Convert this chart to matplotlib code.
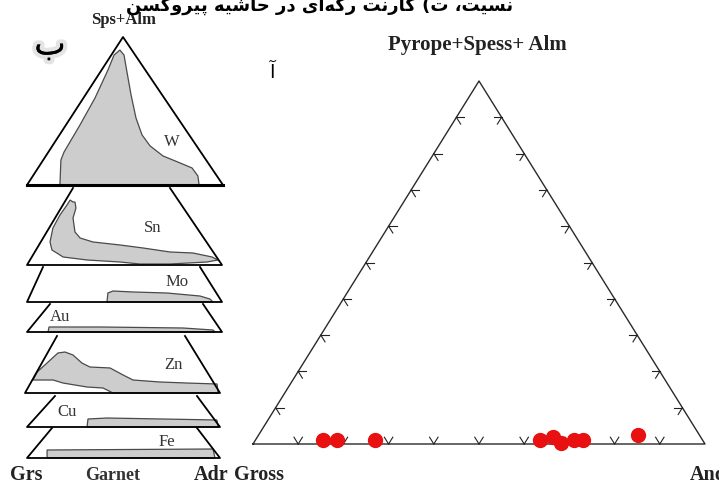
import numpy as np
import matplotlib.pyplot as plt
from matplotlib.patches import Polygon
import matplotlib.patheffects as pe

# red points on the Gross - And join (percent of each end member)
andradite = [15, 18, 26.5, 63, 65.5, 68, 70.5, 72.5, 84]
pyr_sps_alm = [1, 1, 1, 1.2, 1.8, 0.3, 1.0, 1.2, 2.5]

# left panel: garnet fields for each metal, (u along base, v up the slice)
slice_names = ['W', 'Sn', 'Mo', 'Au', 'Zn', 'Cu', 'Fe']
w_u = [0.168, 0.173, 0.189, 0.27, 0.347, 0.413, 0.444, 0.474, 0.495, 0.51,
       0.531, 0.556, 0.587, 0.628, 0.694, 0.77, 0.842, 0.872, 0.878]
w_v = [0.0, 0.169, 0.223, 0.405, 0.588, 0.777, 0.878, 0.912, 0.878, 0.764,
       0.608, 0.453, 0.338, 0.264, 0.196, 0.155, 0.115, 0.061, 0.0]
sn_u = [0.236, 0.221, 0.205, 0.169, 0.133, 0.118, 0.128, 0.185, 0.308, 0.477,
        0.579, 0.733, 0.923, 0.979, 0.949, 0.851, 0.733, 0.595, 0.477, 0.338,
        0.272, 0.246, 0.236, 0.251, 0.246]
sn_v = [0.818, 0.844, 0.779, 0.649, 0.481, 0.299, 0.195, 0.104, 0.065, 0.039,
        0.013, 0.013, 0.039, 0.065, 0.104, 0.156, 0.169, 0.221, 0.26, 0.299,
        0.351, 0.429, 0.61, 0.74, 0.818]
mo_u = [0.41, 0.415, 0.441, 0.544, 0.718, 0.887, 0.938, 0.954]
mo_v = [0.0, 0.257, 0.314, 0.286, 0.257, 0.171, 0.086, 0.0]
au_u = [0.108, 0.113, 0.374, 0.8, 0.954, 0.964]
au_v = [0.0, 0.179, 0.179, 0.143, 0.071, 0.0]
zn_u = [0.062, 0.113, 0.169, 0.205, 0.246, 0.292, 0.333, 0.436, 0.503, 0.554,
        0.692, 0.831, 0.985, 0.99, 0.451, 0.4, 0.318, 0.195, 0.144, 0.041]
zn_v = [0.368, 0.526, 0.702, 0.719, 0.667, 0.526, 0.456, 0.439, 0.316, 0.228,
        0.193, 0.175, 0.158, 0.0, 0.0, 0.088, 0.105, 0.175, 0.228, 0.228]
cu_u = [0.311, 0.316, 0.415, 0.984, 0.99]
cu_v = [0.0, 0.258, 0.29, 0.226, 0.0]
fe_u = [0.104, 0.104, 0.964, 0.974]
fe_v = [0.0, 0.267, 0.3, 0.0]
fields = [(w_u, w_v), (sn_u, sn_v), (mo_u, mo_v), (au_u, au_v),
          (zn_u, zn_v), (cu_u, cu_v), (fe_u, fe_v)]

title_fa = 'نسیت، ت) گارنت رگه‌ای در حاشیه پیروکسن'

# presentation forms: (isolated, final, initial, medial)
FORMS = {
    'ا': ('\uFE8D', '\uFE8E'), 'آ': ('\uFE81', '\uFE82'),
    'ب': ('\uFE8F', '\uFE90', '\uFE91', '\uFE92'),
    'پ': ('\uFB56', '\uFB57', '\uFB58', '\uFB59'),
    'ت': ('\uFE95', '\uFE96', '\uFE97', '\uFE98'),
    'ح': ('\uFEA1', '\uFEA2', '\uFEA3', '\uFEA4'),
    'د': ('\uFEA9', '\uFEAA'), 'ر': ('\uFEAD', '\uFEAE'),
    'س': ('\uFEB1', '\uFEB2', '\uFEB3', '\uFEB4'),
    'ش': ('\uFEB5', '\uFEB6', '\uFEB7', '\uFEB8'),
    'ک': ('\uFB8E', '\uFB8F', '\uFB90', '\uFB91'),
    'گ': ('\uFB92', '\uFB93', '\uFB94', '\uFB95'),
    'ن': ('\uFEE5', '\uFEE6', '\uFEE7', '\uFEE8'),
    'ه': ('\uFEE9', '\uFEEA', '\uFEEB', '\uFEEC'),
    'و': ('\uFEED', '\uFEEE'),
    'ی': ('\uFBFC', '\uFBFD', '\uFBFE', '\uFBFF'),
}
MIRROR = {'(': ')', ')': '('}


def shape(text):
    out = []
    for i, ch in enumerate(text):
        forms = FORMS.get(ch)
        if forms is None:
            if ch != '\u200c':
                out.append(MIRROR.get(ch, ch))
            continue
        prev = text[i - 1] if i > 0 else ''
        nxt = text[i + 1] if i + 1 < len(text) else ''
        jp = prev in FORMS and len(FORMS[prev]) == 4
        jn = len(forms) == 4 and nxt in FORMS
        if jp and jn:
            out.append(forms[3])
        elif jp:
            out.append(forms[1])
        elif jn:
            out.append(forms[2])
        else:
            out.append(forms[0])
    return ''.join(reversed(out))


fig = plt.figure(figsize=(7.19, 4.86), dpi=100)
ax = fig.add_axes([0, 0, 1, 1])
ax.set_xlim(0, 719)
ax.set_ylim(486, 0)
ax.axis('off')

serif = 'Liberation Serif'

# ---- main ternary (Pyrope+Spess+Alm / Gross / And)
G = np.array([253.0, 444.0])
A = np.array([705.0, 444.0])
P = np.array([479.0, 81.0])


def tern(a, p):
    a = np.asarray(a) / 100.0
    p = np.asarray(p) / 100.0
    xy = G[:, None] * (1 - a - p) + A[:, None] * a + P[:, None] * p
    return xy[0], xy[1]


tri = np.array([G, A, P, G])
ax.plot(tri[:, 0], tri[:, 1], color='#2a2a2a', lw=1.0, zorder=2)


def unit(v):
    return v / np.hypot(*v)


L = 8
for k in range(1, 10):
    f = k / 10
    for start, end, d1, d2 in [(G, A, P - G, P - A),
                               (G, P, A - G, A - P),
                               (A, P, G - A, G - P)]:
        pt = start + f * (end - start)
        for d in (d1, d2):
            q = pt + L * unit(d)
            ax.plot([pt[0], q[0]], [pt[1], q[1]], color='#222222', lw=0.8, zorder=2)

px, py = tern(andradite, pyr_sps_alm)
ax.plot(px, py, 'o', color='#e81010', ms=10, mec='#e81010', zorder=5)

ax.text(477, 45, 'Pyrope+Spess+ Alm', fontfamily=serif, fontweight='bold',
        fontsize=15, ha='center', va='center', color='#222222')
ax.text(259, 475, 'Gross', fontfamily=serif, fontweight='bold',
        fontsize=14.5, ha='center', va='center', color='#222222')
ax.text(690, 475, 'And', fontfamily=serif, fontweight='bold',
        fontsize=14.5, ha='left', va='center', color='#222222')

# ---- left stacked slices (xl, xr, y_base, top_xl, top_xr, y_top)
slices = [(27, 223, 185, 123, 123, 37),
          (27, 222, 265, 73, 170, 188),
          (27, 222, 302, 43, 200, 267),
          (27, 222, 332, 50, 203, 304),
          (25, 220, 393, 57, 185, 336),
          (27, 220, 427, 55, 197, 396),
          (27, 220, 458, 52, 197, 428)]
label_xy = [(172, 142), (153, 228), (177, 282), (60, 317),
            (173, 365), (67, 412), (167, 442)]

for i in range(len(slices) - 1, -1, -1):
    xl, xr, yb, txl, txr, yt = slices[i]
    z = 10 + (len(slices) - i) * 3
    ax.add_patch(Polygon([(xl, yb), (xr, yb), (txr, yt), (txl, yt)],
                         closed=True, facecolor='white', edgecolor='none', zorder=z))
    u, v = fields[i]
    fx = xl + np.asarray(u) * (xr - xl)
    fy = yb - np.asarray(v) * (yb - yt)
    ax.add_patch(Polygon(np.column_stack([fx, fy]), closed=True,
                         facecolor='#cdcdcd', edgecolor='#4a4a4a', lw=0.9, zorder=z + 1))
    if i == 0:
        ax.plot([xl, xr, txl, xl], [yb, yb, yt, yb], color='black', lw=1.3, zorder=z + 2)
        ax.plot([xl, xr], [yb, yb], color='black', lw=2.2, zorder=z + 2)
    else:
        ax.plot([txl, xl, xr, txr], [yt, yb, yb, yt], color='black', lw=1.3, zorder=z + 2)
    lx, ly = label_xy[i]
    ax.text(lx, ly, slice_names[i], fontfamily=serif, fontsize=12,
            ha='center', va='center', color='#333333', zorder=z + 2)

ax.text(123, 20, 'Sps+Alm', fontfamily=serif, fontweight='bold',
        fontsize=12, ha='center', va='center', color='#222222')
ax.text(26, 475, 'Grs', fontfamily=serif, fontweight='bold',
        fontsize=14.5, ha='center', va='center', color='#222222')
ax.text(113, 475, 'Garnet', fontfamily=serif, fontweight='bold',
        fontsize=13, ha='center', va='center', color='#333333')
ax.text(211, 475, 'Adr', fontfamily=serif, fontweight='bold',
        fontsize=14.5, ha='center', va='center', color='#222222')

# ---- Persian labels
ax.text(320, 11, shape(title_fa), fontfamily=['DejaVu Sans'], fontweight='bold',
        fontsize=13, ha='center', va='baseline', color='black')
ax.text(272, 73, shape('آ'), fontfamily=['DejaVu Sans'], fontsize=14,
        ha='center', va='center', color='black')
ax.text(50, 45, shape('ب'), fontfamily=['DejaVu Sans'], fontsize=24,
        ha='center', va='center', color='black',
        path_effects=[pe.withStroke(linewidth=6, foreground='#e4e4e4'), pe.Normal()])

fig.savefig('out.png', dpi=100)
